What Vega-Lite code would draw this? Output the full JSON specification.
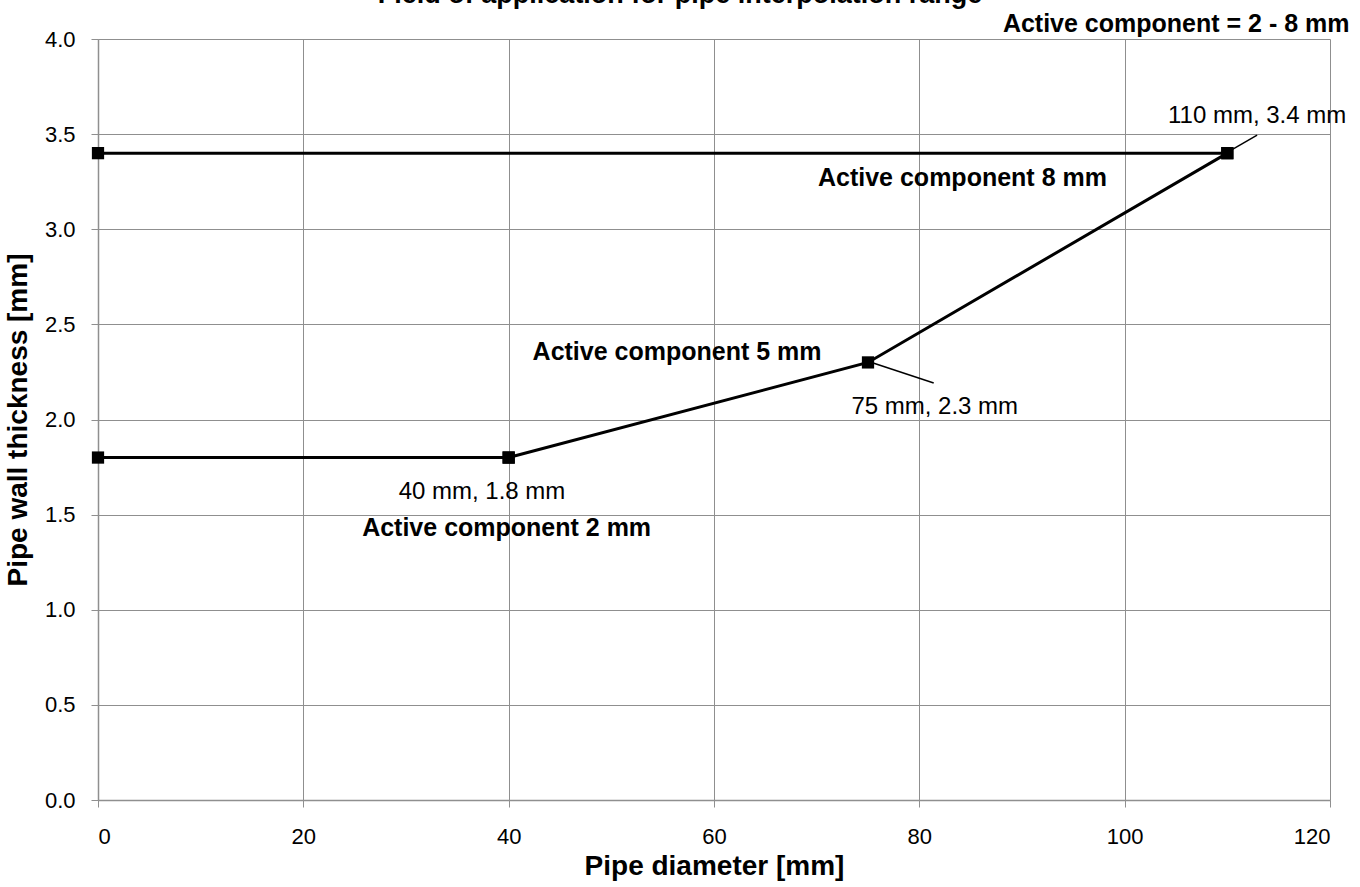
{
  "$schema": "https://vega.github.io/schema/vega-lite/v6.json",
  "width": 1232,
  "height": 761,
  "autosize": {"type": "none"},
  "padding": {"left": 98, "top": 39, "right": 30, "bottom": 87},
  "background": "white",
  "config": {
    "font": "Liberation Sans",
    "view": {"stroke": null},
    "axis": {
      "gridColor": "#8f8f8f",
      "gridWidth": 1,
      "gridOpacity": 1,
      "domainColor": "#8f8f8f",
      "domainWidth": 1.5,
      "tickColor": "#8f8f8f",
      "tickWidth": 1,
      "tickSize": 7,
      "labelFont": "Liberation Sans",
      "labelFontSize": 22,
      "labelColor": "black",
      "titleFont": "Liberation Sans",
      "titleFontSize": 28,
      "titleFontWeight": "bold",
      "titleColor": "black"
    }
  },
  "datasets": {
    "lines": [
      {"series": "2 mm", "d": 0, "t": 1.8},
      {"series": "2 mm", "d": 40, "t": 1.8},
      {"series": "5 mm", "d": 40, "t": 1.8},
      {"series": "5 mm", "d": 75, "t": 2.3},
      {"series": "5 mm", "d": 110, "t": 3.4},
      {"series": "8 mm", "d": 0, "t": 3.4},
      {"series": "8 mm", "d": 110, "t": 3.4}
    ],
    "bold": [
      {"label": "Active component 8 mm", "d": 84.2, "t": 3.27},
      {"label": "Active component 5 mm", "d": 56.4, "t": 2.355},
      {"label": "Active component 2 mm", "d": 39.8, "t": 1.43}
    ],
    "values": [
      {"label": "40 mm, 1.8 mm", "d": 37.4, "t": 1.62},
      {"label": "75 mm, 2.3 mm", "d": 81.5, "t": 2.066},
      {"label": "110 mm, 3.4 mm", "d": 112.9, "t": 3.595}
    ],
    "leaders": [
      {"d": 110.5, "t": 3.42, "d2": 112.9, "t2": 3.495},
      {"d": 75.5, "t": 2.297, "d2": 81.4, "t2": 2.192}
    ],
    "maintitle": [
      {"label": "Field of application for pipe interpolation range", "d": 56.7, "t": 4.19}
    ],
    "subtitle": [
      {"label": "Active component = 2 - 8 mm", "d": 121.9, "t": 4.079}
    ]
  },
  "layer": [
    {
      "data": {"name": "lines"},
      "mark": {"type": "line", "color": "black", "strokeWidth": 3, "clip": false},
      "encoding": {
        "x": {
          "field": "d", "type": "quantitative",
          "scale": {"domain": [0, 120], "nice": false, "zero": false},
          "axis": {
            "values": [0, 20, 40, 60, 80, 100, 120],
            "title": "Pipe diameter [mm]",
            "grid": true,
            "labelPadding": 19,
            "titlePadding": 5
          }
        },
        "y": {
          "field": "t", "type": "quantitative",
          "scale": {"domain": [0, 4], "nice": false, "zero": false},
          "axis": {
            "values": [0, 0.5, 1, 1.5, 2, 2.5, 3, 3.5, 4],
            "format": ".1f",
            "title": "Pipe wall thickness [mm]",
            "grid": true,
            "labelPadding": 16,
            "titlePadding": 12
          }
        },
        "detail": {"field": "series"},
        "order": {"field": "d"}
      }
    },
    {
      "data": {"name": "lines"},
      "mark": {"type": "point", "shape": "square", "filled": true, "color": "black", "size": 150, "opacity": 1, "clip": false},
      "encoding": {
        "x": {"field": "d", "type": "quantitative"},
        "y": {"field": "t", "type": "quantitative"}
      }
    },
    {
      "data": {"name": "leaders"},
      "mark": {"type": "rule", "color": "black", "strokeWidth": 1.5},
      "encoding": {
        "x": {"field": "d", "type": "quantitative"},
        "y": {"field": "t", "type": "quantitative"},
        "x2": {"field": "d2"},
        "y2": {"field": "t2"}
      }
    },
    {
      "data": {"name": "bold"},
      "mark": {"type": "text", "font": "Liberation Sans", "fontSize": 25, "fontWeight": "bold", "color": "black", "align": "center", "baseline": "middle"},
      "encoding": {
        "x": {"field": "d", "type": "quantitative"},
        "y": {"field": "t", "type": "quantitative"},
        "text": {"field": "label"}
      }
    },
    {
      "data": {"name": "values"},
      "mark": {"type": "text", "font": "Liberation Sans", "fontSize": 24, "color": "black", "align": "center", "baseline": "middle"},
      "encoding": {
        "x": {"field": "d", "type": "quantitative"},
        "y": {"field": "t", "type": "quantitative"},
        "text": {"field": "label"}
      }
    },
    {
      "data": {"name": "maintitle"},
      "mark": {"type": "text", "font": "Liberation Sans", "fontSize": 27, "fontWeight": "bold", "color": "black", "align": "center", "baseline": "alphabetic", "clip": false},
      "encoding": {
        "x": {"field": "d", "type": "quantitative"},
        "y": {"field": "t", "type": "quantitative"},
        "text": {"field": "label"}
      }
    },
    {
      "data": {"name": "subtitle"},
      "mark": {"type": "text", "font": "Liberation Sans", "fontSize": 25, "fontWeight": "bold", "color": "black", "align": "right", "baseline": "middle", "clip": false},
      "encoding": {
        "x": {"field": "d", "type": "quantitative"},
        "y": {"field": "t", "type": "quantitative"},
        "text": {"field": "label"}
      }
    }
  ]
}
